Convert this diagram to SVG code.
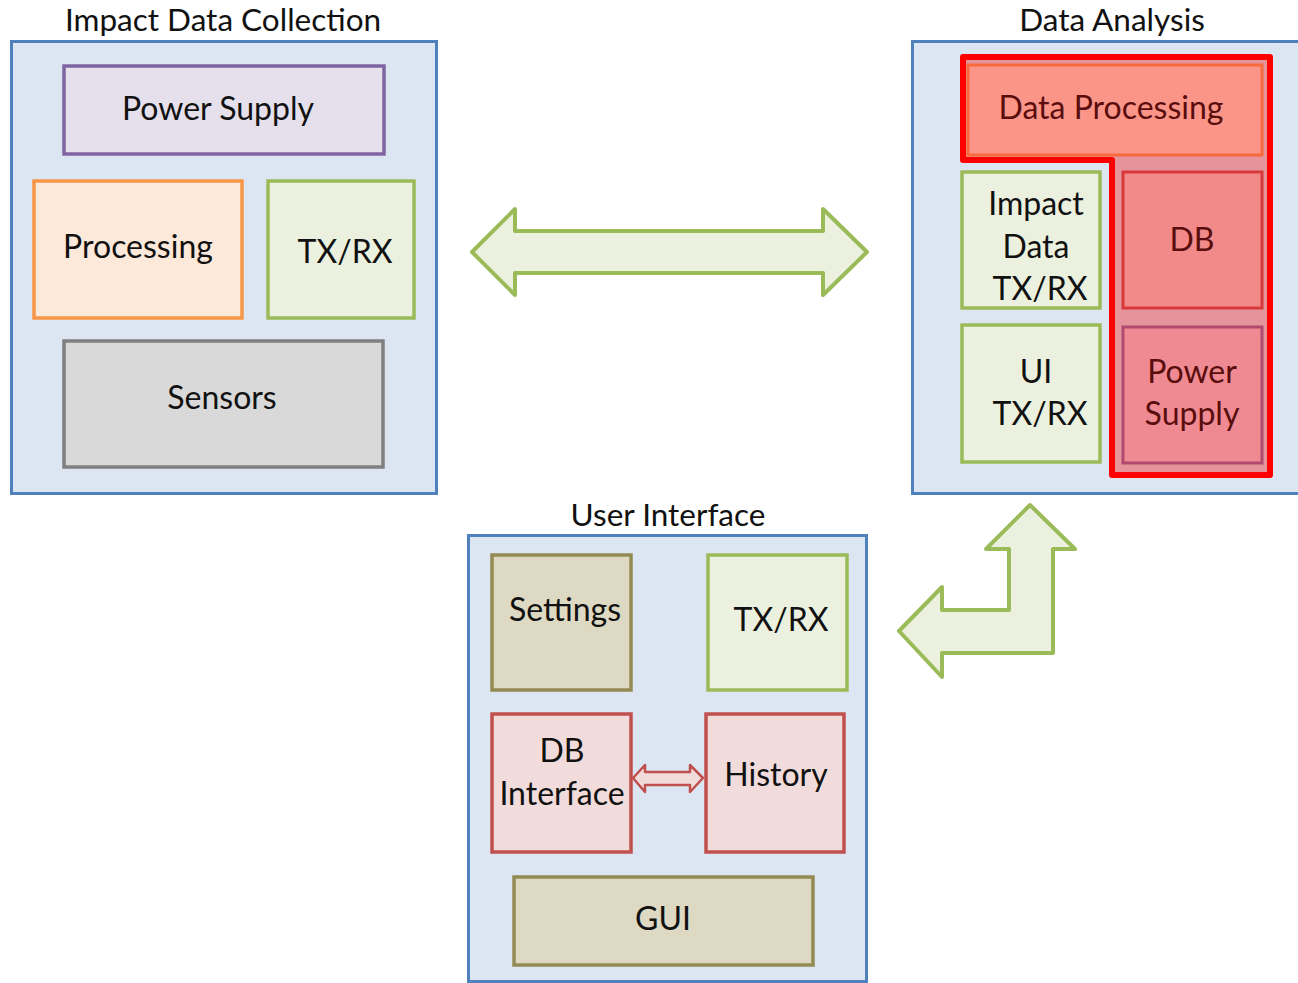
<svg xmlns="http://www.w3.org/2000/svg" width="1298" height="983" viewBox="0 0 1298 983">
<style>
text{font-family:Lato,"Open Sans","Liberation Sans",sans-serif;font-size:32px;fill:#111;text-anchor:middle}
.title{font-size:31.5px}
.cont{fill:#dce6f2;stroke:#4f81bd;stroke-width:3}
.grn{fill:#ebf1de;stroke:#9bbb59;stroke-width:3.5}
.red{fill:#f2dcdb;stroke:#c0504d;stroke-width:3.5}
.tan{fill:#ddd9c3;stroke:#948a54;stroke-width:3.5}
.dred{fill:#5a0d0d}
</style>
<rect width="1298" height="983" fill="#fff"/>
<g id="impact-data-collection">
<rect class="cont" x="11.5" y="41.5" width="425" height="452"/>
<text class="title" x="223" y="31">Impact Data Collection</text>
</g>
<g id="idc-power-supply">
<rect x="64" y="66" width="320" height="88" fill="#e5e0ec" stroke="#8064a2" stroke-width="3.5"/>
<text x="218" y="120">Power Supply</text>
</g>
<g id="idc-processing">
<rect x="34" y="181" width="208" height="137" fill="#fde9d9" stroke="#f79646" stroke-width="3.5"/>
<text x="138" y="258">Processing</text>
</g>
<g id="idc-txrx">
<rect class="grn" x="268" y="181" width="146" height="137"/>
<text x="345" y="263">TX/RX</text>
</g>
<g id="idc-sensors">
<rect x="64" y="341" width="319" height="126" fill="#d9d9d9" stroke="#7f7f7f" stroke-width="3.5"/>
<text x="222" y="409">Sensors</text>
</g>

<g id="data-analysis">
<rect class="cont" x="912.5" y="41.5" width="400" height="452"/>
<text class="title" x="1112" y="31">Data Analysis</text>
<path d="M963,57 H1270 V475 H1112 V160 H963 Z" fill="#e4949a"/>
</g>
<g id="da-data-processing">
<rect x="968" y="65" width="294" height="90" fill="#fa9588" stroke="#f8693c" stroke-width="3"/>
<text class="dred" x="1111" y="119">Data Processing</text>
</g>
<g id="da-db">
<rect x="1123" y="172" width="139" height="136" fill="#f28a8a" stroke="#d9383a" stroke-width="3"/>
<text class="dred" x="1192" y="251">DB</text>
</g>
<g id="da-power-supply">
<rect x="1123" y="327" width="139" height="136" fill="#ef8a92" stroke="#b04a6e" stroke-width="3"/>
<text class="dred" x="1192" y="383">Power</text>
<text class="dred" x="1192" y="425">Supply</text>
</g>
<g id="da-outline">
<path d="M963,57 H1270 V475 H1112 V160 H963 Z" fill="none" stroke="#ff0000" stroke-width="6" stroke-linejoin="round"/>
</g>
<g id="da-impact-txrx">
<rect class="grn" x="962" y="172" width="138" height="136"/>
<text x="1036" y="215">Impact</text>
<text x="1036" y="258">Data</text>
<text x="1040" y="300">TX/RX</text>
</g>
<g id="da-ui-txrx">
<rect class="grn" x="962" y="325" width="138" height="137"/>
<text x="1036" y="383">UI</text>
<text x="1040" y="425">TX/RX</text>
</g>

<g id="user-interface">
<rect class="cont" x="468.5" y="535.5" width="398" height="446"/>
<text class="title" x="668" y="526">User Interface</text>
</g>
<g id="ui-settings">
<rect class="tan" x="492" y="555" width="139" height="135"/>
<text x="565" y="621">Settings</text>
</g>
<g id="ui-txrx">
<rect class="grn" x="708" y="555" width="139" height="135"/>
<text x="781" y="631">TX/RX</text>
</g>
<g id="ui-db-interface">
<rect class="red" x="492" y="714" width="139" height="138"/>
<text x="562" y="762">DB</text>
<text x="562" y="805">Interface</text>
</g>
<g id="ui-history">
<rect class="red" x="706" y="714" width="138" height="138"/>
<text x="776" y="786">History</text>
</g>
<g id="ui-gui">
<rect class="tan" x="514" y="877" width="299" height="88"/>
<text x="663" y="930">GUI</text>
</g>

<g id="connectors">
<polygon points="472,252 515,209 515,231 823,231 823,209 867,252 823,295 823,273 515,273 515,295" fill="#ebf1de" stroke="#9bbb59" stroke-width="4" stroke-linejoin="round"/>
<polygon points="1030,505 1075,549 1053,549 1053,653 942,653 942,677 899,631 942,587 942,610 1009,610 1009,549 986,549" fill="#ebf1de" stroke="#9bbb59" stroke-width="4" stroke-linejoin="round"/>
<polygon points="633,778 645,765 645,772 690,772 690,765 703,778 690,792 690,785 645,785 645,792" fill="#f2dcdb" stroke="#c0504d" stroke-width="2.5" stroke-linejoin="round"/>
</g>
</svg>
